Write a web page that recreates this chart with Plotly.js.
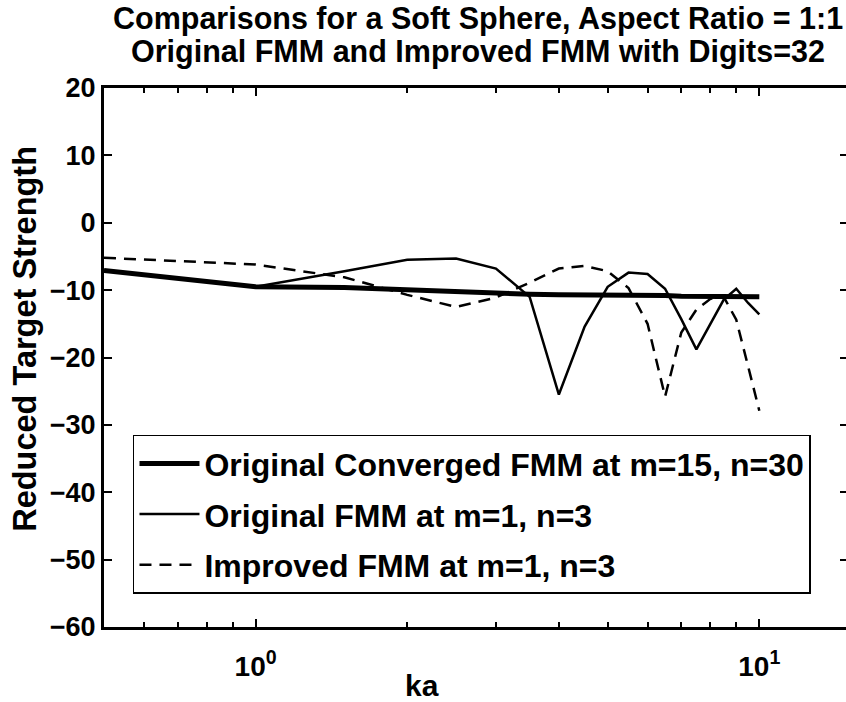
<!DOCTYPE html>
<html>
<head>
<meta charset="utf-8">
<script src="https://cdn.plot.ly/plotly-3.0.1.min.js"></script>
<style>
html,body{margin:0;padding:0;overflow:hidden;background:#fff;}
#chart{width:852px;height:702px;}
</style>
</head>
<body>
<div id="chart"></div>
<script>
// ka sample points
const ka = [0.5, 1, 1.5, 2, 2.5, 3, 3.5, 4, 4.5, 5, 5.5, 6, 6.5, 7, 7.5, 8, 8.5, 9, 9.5, 10];
// Original converged FMM at m=15, n=30
const convergedTS = [-7.1, -9.5, -9.6, -10.0, -10.3, -10.4, -10.6, -10.7, -10.7, -10.8, -10.8, -10.8, -10.8, -10.9, -10.9, -10.9, -10.9, -10.9, -10.9, -11.0];
// Original FMM at m=1, n=3
const originalTS = [-7.1, -9.5, -7.2, -5.5, -5.3, -6.8, -11.0, -25.5, -15.4, -9.5, -7.4, -7.6, -9.8, -14.3, -18.8, -15.1, -11.4, -9.8, -11.9, -13.6];
// Improved FMM at m=1, n=3
const improvedTS = [-5.2, -6.2, -8.1, -10.7, -12.5, -11.1, -8.9, -6.8, -6.4, -7.2, -9.7, -15.0, -25.8, -16.3, -12.9, -11.3, -11.0, -14.4, -21.3, -27.9];

const seriesNames = ['Original Converged FMM at m=15, n=30', 'Original FMM at m=1, n=3', 'Improved FMM at m=1, n=3'];
const titleLines = ['Comparisons for a Soft Sphere, Aspect Ratio = 1:1', 'Original FMM and Improved FMM with Digits=32'];
const xTitle = 'ka';
const yTitle = 'Reduced Target Strength';
const xTickVals = [1, 10];
const xTickText = ['10<sup>0</sup>', '10<sup>1</sup>'];
const xMinorVals = [0.6, 0.7, 0.8, 0.9, 2, 3, 4, 5, 6, 7, 8, 9];
const yTickVals = [-60, -50, -40, -30, -20, -10, 0, 10, 20];

const FONT = 'Liberation Sans, Arial, Helvetica, sans-serif';
const PLOT_W = 744.5, PLOT_H = 539.5, ML = 104, MT = 88;
const px2x = p => (p - ML) / PLOT_W;
const py2y = p => (MT + PLOT_H - p) / PLOT_H;

const traces = [
  {x: ka, y: convergedTS, name: seriesNames[0], mode: 'lines', legendgroup: 'a',
   line: {color: '#000', width: 5}},
  {x: ka, y: originalTS, name: seriesNames[1], mode: 'lines', legendgroup: 'b',
   line: {color: '#000', width: 2.5}},
  {x: ka, y: improvedTS, name: seriesNames[2], mode: 'lines', legendgroup: 'c',
   line: {color: '#000', width: 2.5, dash: '12px,8px'}}
];

const layout = {
  width: 852, height: 702,
  margin: {l: ML, r: 852 - ML - PLOT_W, t: MT, b: 702 - MT - PLOT_H, pad: 0},
  paper_bgcolor: '#fff', plot_bgcolor: '#fff',
  font: {family: FONT, color: '#000', size: 27, weight: 'bold'},
  showlegend: true,
  xaxis: {
    type: 'log', range: [Math.log10(0.5), Math.log10(15)],
    tickmode: 'array', tickvals: xTickVals, ticktext: xTickText,
    ticks: 'inside', ticklen: 8, tickwidth: 2, tickcolor: '#000',
    minor: {tickmode: 'array', tickvals: xMinorVals, ticks: 'inside', ticklen: 5, tickwidth: 2, tickcolor: '#000'},
    showline: true, linecolor: '#000', linewidth: 3, mirror: 'allticks',
    showgrid: false, zeroline: false,
    tickfont: {family: FONT, size: 28, weight: 'bold', color: '#000'},
    ticklabelstandoff: 12
  },
  yaxis: {
    range: [-60, 20], tickmode: 'array', tickvals: yTickVals,
    ticks: 'inside', ticklen: 8, tickwidth: 2, tickcolor: '#000',
    showline: true, linecolor: '#000', linewidth: 3, mirror: 'ticks',
    showgrid: false, zeroline: false,
    tickfont: {family: FONT, size: 27, weight: 'bold', color: '#000'},
    ticklabelstandoff: 0
  },
  legend: {
    x: px2x(133), xanchor: 'left', y: py2y(435), yanchor: 'top',
    bgcolor: '#fff', bordercolor: '#000', borderwidth: 1.5,
    font: {family: FONT, size: 32, weight: 'bold', color: '#000'},
    itemwidth: 60, tracegroupgap: 6, traceorder: 'grouped'
  },
  annotations: [
    {text: titleLines[0], xref: 'paper', yref: 'paper', x: px2x(478), y: py2y(18), xanchor: 'center', yanchor: 'middle',
     showarrow: false, font: {family: FONT, size: 30.5, weight: 'bold', color: '#000'}},
    {text: titleLines[1], xref: 'paper', yref: 'paper', x: px2x(478), y: py2y(51), xanchor: 'center', yanchor: 'middle',
     showarrow: false, font: {family: FONT, size: 30.5, weight: 'bold', color: '#000'}},
    {text: xTitle, xref: 'paper', yref: 'paper', x: px2x(422), y: py2y(686), xanchor: 'center', yanchor: 'middle',
     showarrow: false, font: {family: FONT, size: 30, weight: 'bold', color: '#000'}},
    {text: yTitle, xref: 'paper', yref: 'paper', x: px2x(25), y: py2y(339),
     xanchor: 'center', yanchor: 'middle', textangle: -90,
     showarrow: false, font: {family: FONT, size: 32.5, weight: 'bold', color: '#000'}}
  ]
};

Plotly.newPlot('chart', traces, layout, {displayModeBar: false, staticPlot: true});
</script>
</body>
</html>
